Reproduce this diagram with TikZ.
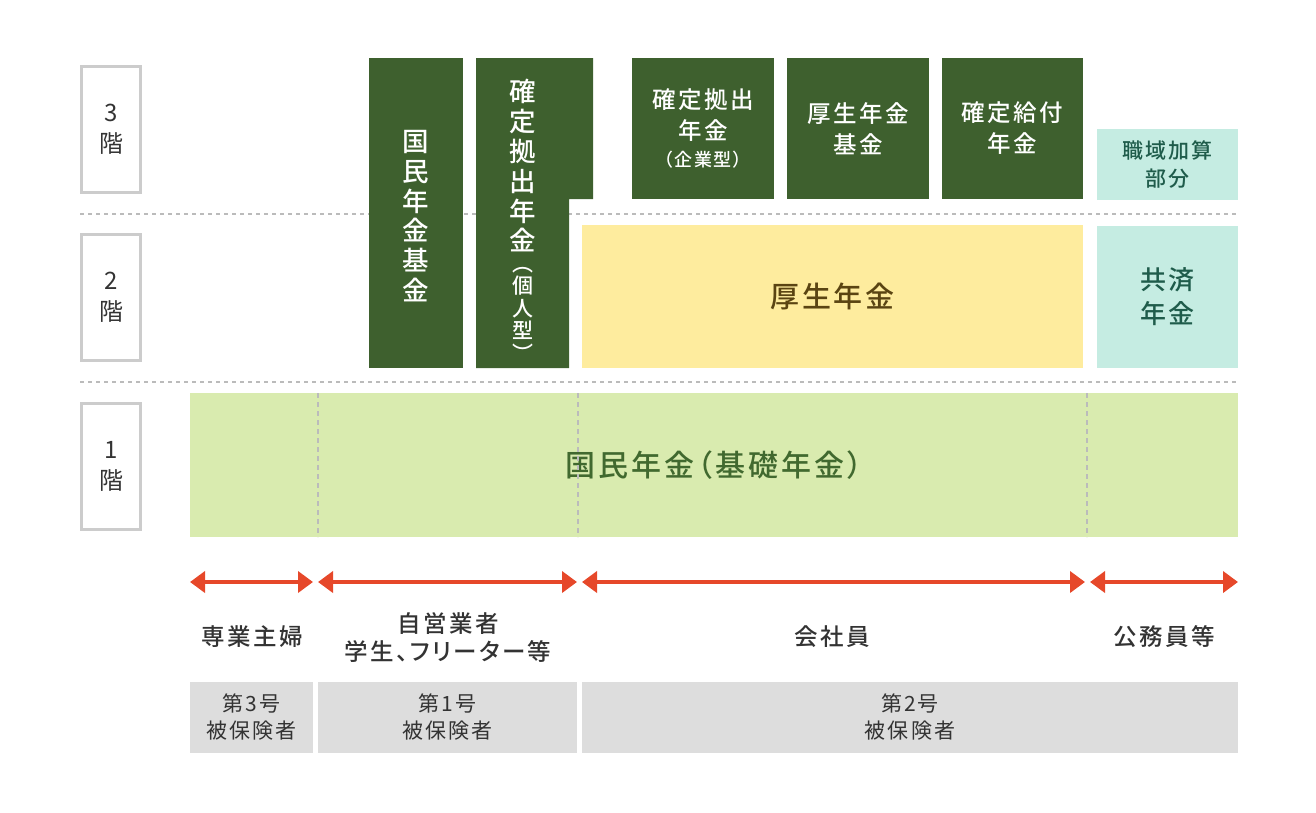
\documentclass[tikz,border=0pt]{standalone}
\usepackage{fontspec}
\setmainfont{Noto Sans CJK JP}[LetterSpace=10, RawFeature=+palt, BoldFont={Noto Sans CJK JP Medium}]
\usetikzlibrary{arrows.meta,positioning}
\definecolor{pinegreen}{HTML}{3E602E}
\definecolor{leafgreen}{HTML}{D9EBAF}
\definecolor{leaftext}{HTML}{41692F}
\definecolor{creamfill}{HTML}{FEEC9E}
\definecolor{creamtext}{HTML}{5A4412}
\definecolor{mintfill}{HTML}{C5ECE2}
\definecolor{minttext}{HTML}{1F5C4B}
\definecolor{spanred}{HTML}{E6482A}
\definecolor{inktext}{HTML}{333333}
\definecolor{panelgray}{HTML}{DDDDDD}
\definecolor{framegray}{HTML}{CCCCCC}
\definecolor{dashgray}{HTML}{BBBBBB}
\tikzset{
	floorline/.style={dashgray, line width=1.5pt, dash pattern=on 4pt off 4pt},
	splitline/.style={dashgray, line width=1.2pt, dash pattern=on 5pt off 4pt},
	floorbox/.style={draw=framegray, line width=3pt, minimum width=59pt, minimum height=126pt, inner sep=0pt, align=center, text=inktext, font=\fontsize{24}{31}\selectfont},
	darkbox/.style={fill=pinegreen, text=white, inner sep=0pt, align=center, font=\bfseries\fontsize{23.5}{31}\selectfont},
	vstack/.style={text=white, inner sep=0pt, align=center, font=\bfseries\fontsize{26.5}{29.8}\selectfont},
	leafbox/.style={fill=leafgreen, text=leaftext, inner sep=0pt, font=\bfseries\fontsize{30}{34}\selectfont},
	creambox/.style={fill=creamfill, text=creamtext, inner sep=0pt, font=\bfseries\fontsize{29}{34}\selectfont},
	mintbox/.style={fill=mintfill, text=minttext, inner sep=0pt, align=center, font=\bfseries\fontsize{26}{34}\selectfont},
	span/.style={spanred, line width=4pt, {Triangle[length=15pt,width=21pt]}-{Triangle[length=15pt,width=21pt]}},
	grouplabel/.style={text=inktext, align=center, font=\bfseries\fontsize{23.5}{28}\selectfont},
	insuredbox/.style={fill=panelgray, text=inktext, inner sep=0pt, minimum height=71pt, align=center, font=\fontsize{21}{27}\selectfont},
}
\begin{document}
\begin{tikzpicture}[x=1pt,y=-1pt]
	\useasboundingbox (0,0) rectangle (1316,812);
	% floors
	\draw[floorline] (80,214) -- (1238,214) (80,382) -- (1238,382);
	\node[floorbox] (floor3) at (111,129.5) {3\\階};
	\node[floorbox] (floor2) at (111,297.5) {2\\階};
	\node[floorbox] (floor1) at (111,466) {1\\階};
	% 1st floor
	\node[leafbox, minimum width=1048pt, minimum height=144pt] (kiso) at (714,465) {国民年金（基礎年金）};
	\foreach \x in {318,578,1087}
		\draw[splitline] (\x,393) -- (\x,537);
	% 2nd floor
	\node[creambox, minimum width=501pt, minimum height=143pt] (kosei) at (832.5,296.5) {厚生年金};
	\node[mintbox, minimum width=141pt, minimum height=142pt] (kyosai) at (1167.5,297) {共済\\年金};
	% 3rd floor
	\node[darkbox, minimum width=142pt, minimum height=141pt] (dbcorp) at (703,128.5) {確定拠出\\年金\\[-4pt]{\fontsize{18}{20}\selectfont（企業型）}};
	\node[darkbox, minimum width=142pt, minimum height=141pt] (kikinkosei) at (858,128.5) {厚生年金\\基金};
	\node[darkbox, minimum width=141pt, minimum height=141pt] (kyufu) at (1012.5,128.5) {確定給付\\年金};
	\node[mintbox, minimum width=141pt, minimum height=71pt, font=\bfseries\fontsize{21}{28}\selectfont] (shokuiki) at (1167.5,164.5) {職域加算\\部分};
	% across 2nd and 3rd floor
	\node[darkbox, minimum width=94pt, minimum height=310pt] (kikin) at (416,213) {};
	\node[vstack] (kikintext) at (416,216) {国\\民\\年\\金\\基\\金};
	\fill[pinegreen] (476,58) -| (593,199) -| (569,368) -| cycle;
	\node[vstack] (ideco) at (522.5,166) {確\\定\\拠\\出\\年\\金};
	\node[vstack, font=\bfseries\fontsize{21}{22.5}\selectfont] (idecotype) at (522.5,314) {︵\\個\\人\\型\\︶};
	% who
	\coordinate (s1a) at (190,582); \coordinate (s1b) at (313,582);
	\coordinate (s2a) at (318,582); \coordinate (s2b) at (577,582);
	\coordinate (s3a) at (582,582); \coordinate (s3b) at (1085,582);
	\coordinate (s4a) at (1090,582); \coordinate (s4b) at (1238,582);
	\draw[span] (s1a) -- (s1b);
	\draw[span] (s2a) -- (s2b);
	\draw[span] (s3a) -- (s3b);
	\draw[span] (s4a) -- (s4b);
	\node[grouplabel] (shufu) at (252,637) {専業主婦};
	\node[grouplabel] (jiei) at (448,638) {自営業者\\学生、フリーター等};
	\node[grouplabel] (kaisha) at (832,637) {会社員};
	\node[grouplabel] (komuin) at (1164,637) {公務員等};
	\node[insuredbox, minimum width=123pt] (ins3) at (251.5,717.5) {第3号\\被保険者};
	\node[insuredbox, minimum width=259pt] (ins1) at (447.5,717.5) {第1号\\被保険者};
	\node[insuredbox, minimum width=656pt] (ins2) at (910,717.5) {第2号\\被保険者};
\end{tikzpicture}
\end{document}
